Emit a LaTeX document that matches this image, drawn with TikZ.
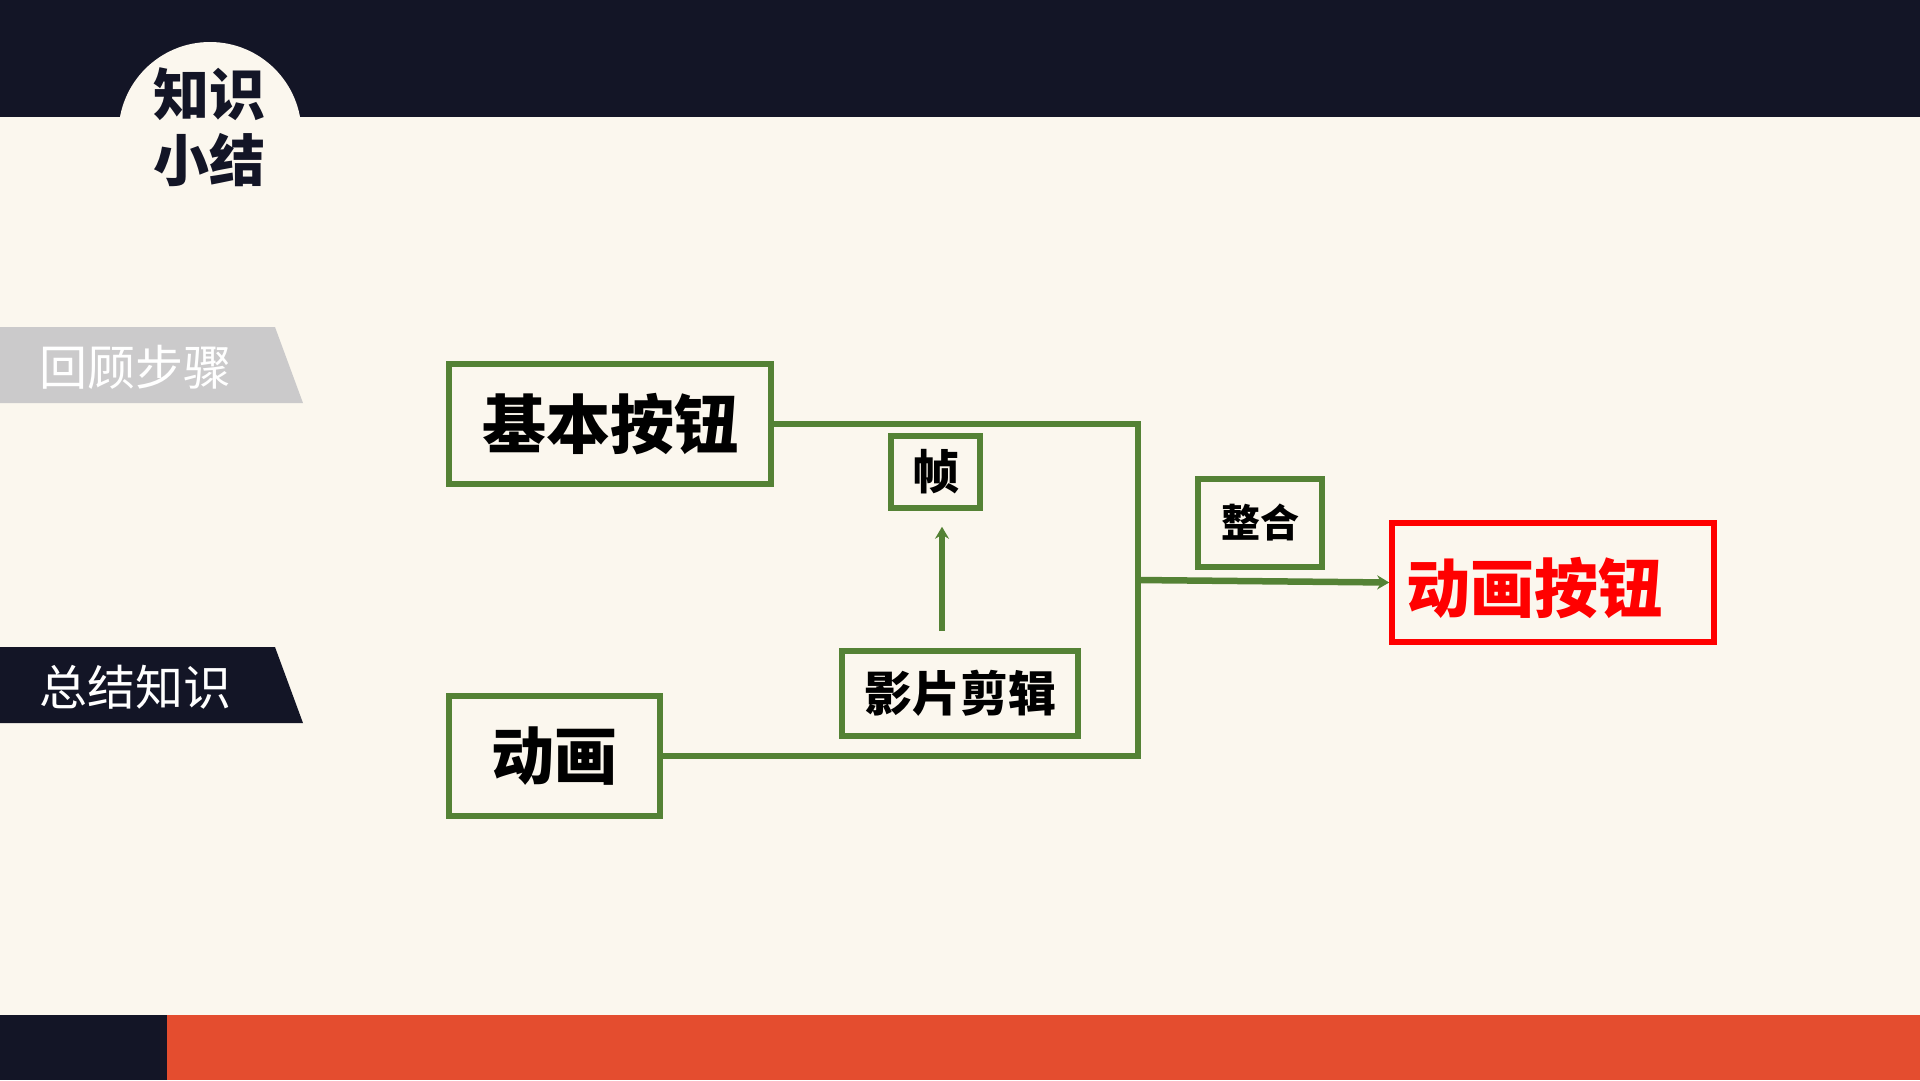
\documentclass[tikz,border=0pt]{standalone}
\usepackage{fontspec}
\setmainfont{Noto Sans CJK SC}
\usetikzlibrary{arrows.meta}
\definecolor{bgc}{HTML}{FBF7EE}
\definecolor{darkc}{HTML}{131526}
\definecolor{orangec}{HTML}{E44D2F}
\definecolor{grayc}{HTML}{CBCACB}
\definecolor{greenc}{HTML}{548235}
\definecolor{redc}{HTML}{FF0000}
\tikzset{
  gbox/.style={draw=greenc, line width=5.5pt, rectangle, inner sep=0pt, font=\bfseries},
  rbox/.style={draw=redc, line width=5.5pt, rectangle, inner sep=0pt},
  conn/.style={draw=greenc, line width=6.5pt},
  arr/.style={conn, -{Stealth[length=12pt,width=14pt]}},
  fs/.style={font=\fontsize{#1pt}{#1pt}\selectfont\bfseries},
}
\begin{document}
\begin{tikzpicture}[x=1pt,y=-1pt]
\useasboundingbox (0,0) rectangle (1920,1080);
\fill[bgc] (0,0) rectangle (1920,1080);
% top bar with notch
\fill[darkc] (0,0) rectangle (1920,117);
\fill[bgc] (210,133.5) circle (91.5pt);
\node[fs=56, text=darkc, align=center, inner sep=0pt] (title) at (209,127) {知识\\[10pt]小结};
% bottom bar
\fill[darkc] (0,1015) rectangle (167,1080);
\fill[orangec] (167,1015) rectangle (1920,1080);
% left tabs
\fill[grayc] (0,327) -- (275,327) -- (303,403) -- (0,403) -- cycle;
\node[font=\fontsize{48pt}{48pt}\selectfont, text=white, inner sep=0pt] (t1) at (135,367) {回顾步骤};
\fill[darkc] (0,647) -- (275,647) -- (303,723) -- (0,723) -- cycle;
\node[font=\fontsize{48pt}{48pt}\selectfont, text=white, inner sep=0pt] (t2) at (135,687) {总结知识};
% boxes
\node[gbox, fs=64, minimum width=322pt, minimum height=120pt] (jb) at (610,424) {基本按钮};
\node[gbox, fs=47, minimum width=89pt, minimum height=72pt] (zhen) at (935.5,472) {帧};
\node[gbox, fs=48, minimum width=236pt, minimum height=85pt] (yp) at (960,693.5) {影片剪辑};
\node[gbox, fs=63, minimum width=211pt, minimum height=120pt] (dh) at (554.5,756) {动画};
\node[gbox, fs=39, minimum width=124pt, minimum height=88pt] (zh) at (1260,523) {整合};
\node[rbox, minimum width=322pt, minimum height=119pt] (ahb) at (1553,582.5) {};
\node[fs=64, text=redc, anchor=west, inner sep=0pt] (ahbt) at (1406,588) {动画按钮};
% connectors
\coordinate (j) at (1138,580);
\draw[conn] (jb.east) -- (jb.east -| j) -- (dh.east -| j) -- (dh.east);
\draw[arr] (j) -- (ahb.west);
\coordinate (s) at (942,651);
\draw[arr, shorten <=20pt, shorten >=16pt] (s) -- (s |- zhen.south);
\end{tikzpicture}
\end{document}
